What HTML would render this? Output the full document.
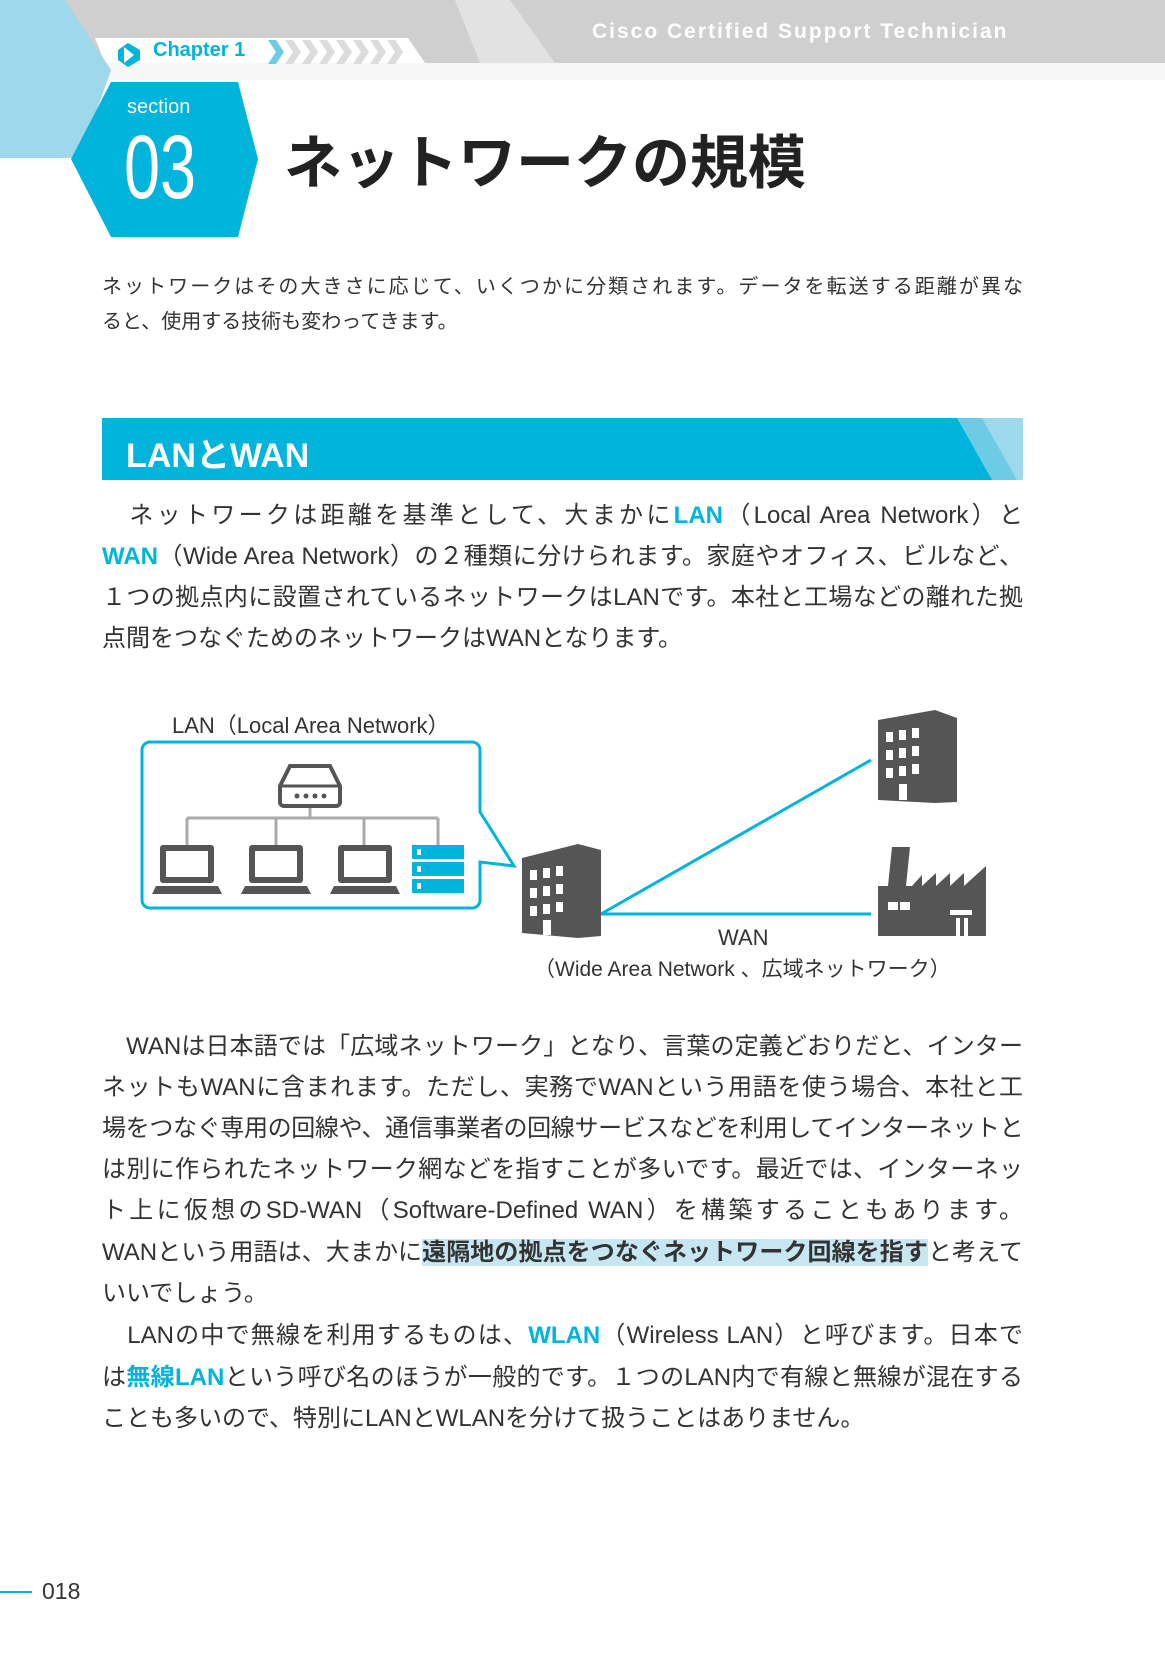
<!DOCTYPE html>
<html><head><meta charset="utf-8"><style>
*{margin:0;padding:0;box-sizing:border-box}
body{width:1165px;height:1654px;background:#fff;position:relative;overflow:hidden;font-family:"Liberation Sans","Noto Sans CJK JP",sans-serif;color:#333}
.a{position:absolute;white-space:nowrap}
.ln{position:absolute;left:102px;width:921px;font-size:24px;color:#333;text-align:justify;text-align-last:justify;white-space:nowrap;line-height:30px}
.ln.l{text-align-last:left}
.b{color:#00b4dc;font-weight:bold}
.hl{background:#c6e6f2;font-weight:bold}
.in{position:absolute;left:102px;width:921px;font-size:20px;color:#333;text-align-last:justify;line-height:26px}
</style></head><body>
<svg class="a" style="left:0;top:0" width="1165" height="260">
<polygon points="0,0 1165,0 1165,63 0,63" fill="#cfcfcf"/>
<polygon points="1165,63 1165,80 0,80 0,63" fill="#f6f6f6"/>
<polygon points="455,0 510,0 555,63 480,63" fill="#e2e2e2"/>
<polygon points="95,38 408,38 425,63 105,63" fill="#fff"/>
<polygon points="0,0 65,0 111,70 80,158 0,158" fill="#9dd9ea"/>
<polygon points="111,82 238,82 258,159 238,237 111,237 71,159" fill="#00b4dc"/>
<polygon points="118,50 128,43 140,50 140,60 128,67 118,60" fill="#00b4dc"/>
<polygon points="124,47 134,55 124,63" fill="#fff"/>
<polygon points="268,40 276,40 284,52 276,64 268,64 276,52" fill="#6ecbe5"/>
<g fill="#dcdcdc">
<polygon points="285,40 293,40 301,52 293,64 285,64 293,52"/>
<polygon points="302,40 310,40 318,52 310,64 302,64 310,52"/>
<polygon points="319,40 327,40 335,52 327,64 319,64 327,52"/>
<polygon points="336,40 344,40 352,52 344,64 336,64 344,52"/>
<polygon points="353,40 361,40 369,52 361,64 353,64 361,52"/>
<polygon points="370,40 378,40 386,52 378,64 370,64 378,52"/>
<polygon points="387,40 395,40 403,52 395,64 387,64 395,52"/>
</g>
</svg>
<div class="a" style="left:153px;top:39px;font-size:20px;font-weight:bold;color:#00b4dc">Chapter 1</div>
<div class="a" style="left:592px;top:20px;font-size:21px;color:#fff;letter-spacing:2px;font-weight:bold">Cisco Certified Support Technician</div>
<div class="a" style="left:127px;top:96px;font-size:20px;color:#fff">section</div>
<div class="a" style="left:124px;top:118px;font-size:90px;color:#fff;transform:scaleX(0.72);transform-origin:left top;line-height:100px">03</div>
<div class="a" style="left:284px;top:128px;font-size:58px;font-weight:bold;color:#222;line-height:72px">ネットワークの規模</div>
<div class="in" style="top:274px">ネットワークはその大きさに応じて、いくつかに分類されます。データを転送する距離が異な</div>
<div class="in" style="top:309px;text-align-last:left">ると、使用する技術も変わってきます。</div>
<svg class="a" style="left:102px;top:418px" width="921" height="62"><rect width="921" height="62" fill="#00b4dc"/><polygon points="855,0 921,0 921,62 890,62" fill="#6ecbe5"/><polygon points="880,0 921,0 921,62 915,62" fill="#9dd9ea"/></svg>
<div class="a" style="left:126px;top:428px;font-size:34px;font-weight:bold;color:#fff">LANとWAN</div>
<div class="ln" style="top:501px">　ネットワークは距離を基準として、大まかに<span class="b">LAN</span>（Local Area Network）と</div>
<div class="ln" style="top:542px"><span class="b">WAN</span>（Wide Area Network）の２種類に分けられます。家庭やオフィス、ビルなど、</div>
<div class="ln" style="top:583px">１つの拠点内に設置されているネットワークはLANです。本社と工場などの離れた拠</div>
<div class="ln l" style="top:624px">点間をつなぐためのネットワークはWANとなります。</div>
<div class="a" style="left:172px;top:708px;font-size:22px;color:#333">LAN（Local Area Network）</div>
<svg class="a" style="left:0;top:700px" width="1165" height="280">
<path d="M150,42 H472 a8,8 0 0 1 8,8 V112 L514,166 L480,162 V200 a8,8 0 0 1 -8,8 H150 a8,8 0 0 1 -8,-8 V50 a8,8 0 0 1 8,-8z" fill="#fff" stroke="#00b4dc" stroke-width="3"/>
<path d="M290,66 H330 L340,86 V102 a4,4 0 0 1 -4,4 H284 a4,4 0 0 1 -4,-4 V86z" fill="#fff" stroke="#555" stroke-width="4"/>
<line x1="282" y1="86" x2="338" y2="86" stroke="#555" stroke-width="3"/>
<g fill="#555"><circle cx="297" cy="96" r="2.5"/><circle cx="306" cy="96" r="2.5"/><circle cx="315" cy="96" r="2.5"/><circle cx="324" cy="96" r="2.5"/></g>
<path d="M310,108 V118 M187,118 H438 M187,118 V145 M276,118 V145 M364,118 V145 M438,118 V145" stroke="#aaa" stroke-width="3" fill="none"/>
<g fill="#555">
<rect x="160" y="145" width="54" height="38" rx="3"/><rect x="166" y="151" width="42" height="26" fill="#fff"/><polygon points="156,186 218,186 222,194 152,194"/>
<rect x="249" y="145" width="54" height="38" rx="3"/><rect x="255" y="151" width="42" height="26" fill="#fff"/><polygon points="245,186 307,186 311,194 241,194"/>
<rect x="338" y="145" width="54" height="38" rx="3"/><rect x="344" y="151" width="42" height="26" fill="#fff"/><polygon points="334,186 396,186 400,194 330,194"/>
</g>
<g fill="#00b4dc"><rect x="412" y="145" width="52" height="14"/><rect x="412" y="162" width="52" height="14"/><rect x="412" y="179" width="52" height="14"/></g>
<g fill="#fff"><rect x="417" y="149" width="4" height="6"/><rect x="417" y="166" width="4" height="6"/><rect x="417" y="183" width="4" height="6"/></g>
<line x1="601" y1="214" x2="871" y2="60" stroke="#00b4dc" stroke-width="3"/>
<line x1="601" y1="214" x2="871" y2="214" stroke="#00b4dc" stroke-width="3"/>
<polygon points="522,158 578,144 601,150 601,236 578,238 522,233" fill="#555"/>
<polygon points="878,20 935,10 957,18 957,102 935,103 878,100" fill="#555"/>
<g fill="#fff">
<rect x="530" y="170" width="7" height="10"/><rect x="543" y="168" width="7" height="10"/><rect x="556" y="166" width="7" height="10"/>
<rect x="530" y="188" width="7" height="10"/><rect x="543" y="186" width="7" height="10"/><rect x="556" y="184" width="7" height="10"/>
<rect x="530" y="206" width="7" height="10"/><rect x="543" y="204" width="7" height="10"/><rect x="556" y="202" width="7" height="10"/>
<rect x="543" y="220" width="8" height="15"/>
<rect x="886" y="32" width="7" height="10"/><rect x="899" y="30" width="7" height="10"/><rect x="912" y="28" width="7" height="10"/>
<rect x="886" y="50" width="7" height="10"/><rect x="899" y="48" width="7" height="10"/><rect x="912" y="46" width="7" height="10"/>
<rect x="886" y="68" width="7" height="10"/><rect x="899" y="66" width="7" height="10"/><rect x="912" y="64" width="7" height="10"/>
<rect x="899" y="84" width="8" height="16"/>
</g>
<polygon points="892,147 910,147 906,186 912,186 922,175 922,186 936,173 936,186 950,173 950,186 964,173 964,186 986,166 986,236 878,236 878,186 888,186" fill="#555"/>
<g fill="#fff"><rect x="888" y="202" width="10" height="8"/><rect x="900" y="202" width="10" height="8"/><rect x="950" y="210" width="22" height="5"/><rect x="956" y="218" width="4" height="18"/><rect x="964" y="218" width="4" height="18"/></g>
</svg>
<div class="a" style="left:718px;top:925px;font-size:22px;color:#333">WAN</div>
<div class="a" style="left:534px;top:953px;font-size:21px;color:#333">（Wide Area Network 、広域ネットワーク）</div>
<div class="ln" style="top:1032px">　WANは日本語では「広域ネットワーク」となり、言葉の定義どおりだと、インター</div>
<div class="ln" style="top:1073px">ネットもWANに含まれます。ただし、実務でWANという用語を使う場合、本社と工</div>
<div class="ln" style="top:1114px;letter-spacing:-0.6px">場をつなぐ専用の回線や、通信事業者の回線サービスなどを利用してインターネットと</div>
<div class="ln" style="top:1155px">は別に作られたネットワーク網などを指すことが多いです。最近では、インターネッ</div>
<div class="ln" style="top:1196px">ト上に仮想のSD-WAN（Software-Defined WAN）を構築することもあります。</div>
<div class="ln" style="top:1238px">WANという用語は、大まかに<span class="hl">遠隔地の拠点をつなぐネットワーク回線を指す</span>と考えて</div>
<div class="ln l" style="top:1279px">いいでしょう。</div>
<div class="ln" style="top:1321px">　LANの中で無線を利用するものは、<span class="b">WLAN</span>（Wireless LAN）と呼びます。日本で</div>
<div class="ln" style="top:1363px">は<span class="b">無線LAN</span>という呼び名のほうが一般的です。１つのLAN内で有線と無線が混在する</div>
<div class="ln l" style="top:1404px">ことも多いので、特別にLANとWLANを分けて扱うことはありません。</div>
<div class="a" style="left:0;top:1591px;width:32px;height:2px;background:#00b4dc"></div>
<div class="a" style="left:42px;top:1578px;font-size:23px;color:#333">018</div>
</body></html>
